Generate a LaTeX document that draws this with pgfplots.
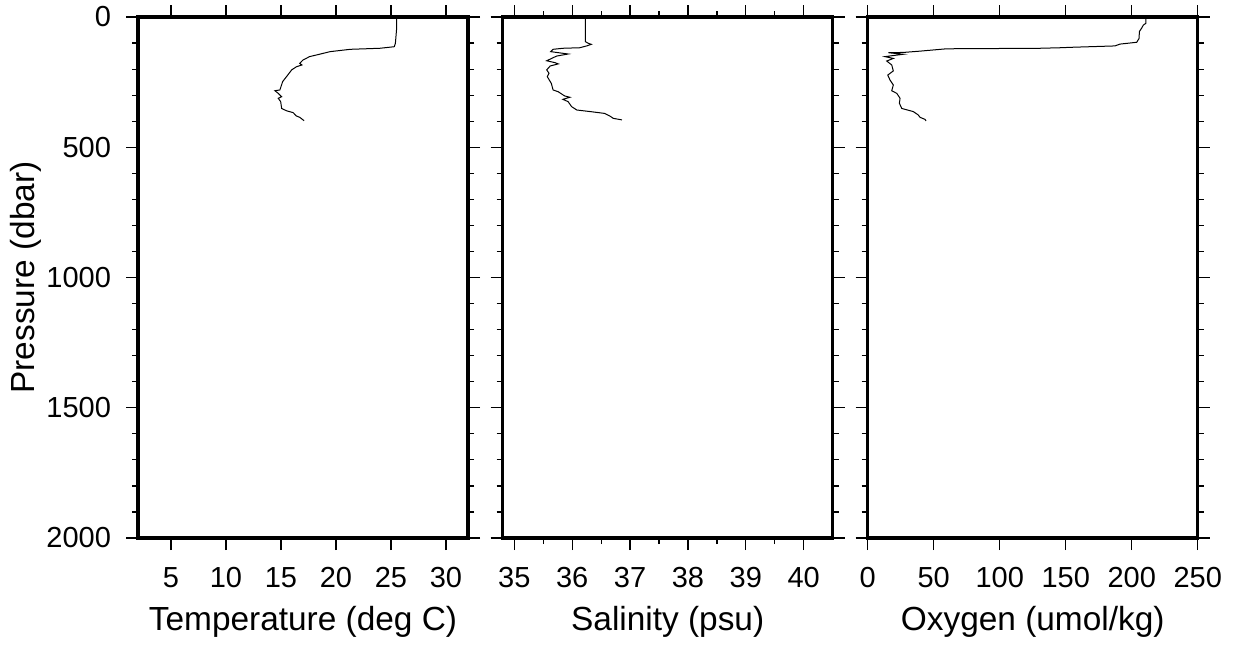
\documentclass[border=0pt]{standalone}
\usepackage{pgfplots}
\pgfplotsset{compat=1.18}
\usepackage{fontspec}
\setmainfont{Liberation Sans}

\pgfplotstableread{
T P
25.5 0
25.5 50
25.4 101
25.3 114
24.0 120
21.3 124
19.45 133
18.5 143
17.6 152
17.0 165
16.7 178
16.9 184
16.4 191
15.97 203
15.5 229
15.15 248
14.9 280
14.45 283
14.75 293
15.06 306
14.75 312
14.97 325
15.06 351
15.5 360
16.1 367
16.4 380
16.7 385
17.1 398
}\temptab

\pgfplotstableread{
S P
36.23 0
36.23 50
36.23 95
36.28 101
36.33 105
36.25 111
36.13 118
35.84 120
35.67 124
35.63 133
35.93 142
35.73 150
35.56 168
35.70 175
35.76 180
35.62 188
35.56 203
35.60 216
35.57 229
35.64 255
35.67 280
35.76 287
35.87 303
35.96 308
35.84 316
35.93 325
35.99 344
36.08 357
36.31 363
36.56 370
36.65 380
36.71 389
36.86 395
}\saltab

\pgfplotstableread{
O P
210.8 0
210.8 24
208.8 31
207.5 43
205.8 56
205.6 82
203.8 97
191.1 104
187.3 111
155.8 116
145.7 118
130.5 120
59.8 122
39.6 131
27.0 136
15.6 137
27.0 143
13.1 152
19.4 159
14.4 169
18.2 184
19.4 207
15.2 223
16.9 242
19.4 261
18.2 283
22.0 293
24.5 312
24.0 331
25.8 351
34.5 363
38.3 376
39.6 385
43.4 393
44.2 399
}\oxytab

\pgfplotsset{prof/.style={
  scale only axis, width=165pt, height=260.5pt,
  anchor=south west,
  y dir=reverse, ymin=0, ymax=2000,
  ytick={0,500,1000,1500,2000},
  minor ytick={100,200,300,400,600,700,800,900,1100,1200,1300,1400,1600,1700,1800,1900},
  tick align=outside, major tick length=6pt, minor tick length=3pt,
  tick style={black, line width=0.6pt},
  axis line style={line width=1.6pt},
  tick label style={font=\fontsize{14.5}{17}\selectfont},
  xticklabel style={yshift=-5pt},
  yticklabel style={xshift=-4pt},
  /pgf/number format/assume math mode=true,
  /pgf/number format/1000 sep={},
  scaled ticks=false,
  xlabel style={font=\fontsize{16.7}{20}\selectfont, at={(axis description cs:0.5,0)}, anchor=base, yshift=-46.35pt},
}}

\begin{document}
\begin{tikzpicture}
\useasboundingbox (0,0) rectangle (617.5pt,322pt);

\begin{axis}[prof, at={(69pt,53pt)},
  xmin=2, xmax=32, xtick={5,10,15,20,25,30},
  xlabel={Temperature (deg C)}]
\addplot[black, line width=0.5pt] table[x=T, y=P] {\temptab};
\draw[line width=1.6pt, line join=miter] (rel axis cs:0,0) rectangle (rel axis cs:1,1);
\end{axis}

\begin{axis}[prof, at={(251.35pt,53pt)},
  xmin=34.8, xmax=40.5, xtick={35,36,37,38,39,40},
  minor xtick={35.5,36.5,37.5,38.5,39.5},
  yticklabels={},
  xlabel={Salinity (psu)}]
\addplot[black, line width=0.5pt] table[x=S, y=P] {\saltab};
\draw[line width=1.6pt, line join=miter] (rel axis cs:0,0) rectangle (rel axis cs:1,1);
\end{axis}

\begin{axis}[prof, at={(433.85pt,53pt)},
  xmin=0, xmax=250, xtick={0,50,100,150,200,250},
  yticklabels={},
  xlabel={Oxygen (umol/kg)}]
\addplot[black, line width=0.5pt] table[x=O, y=P] {\oxytab};
\draw[line width=1.6pt, line join=miter] (rel axis cs:0,0) rectangle (rel axis cs:1,1);
\end{axis}

\node[rotate=90, font=\fontsize{16.7}{20}\selectfont] at (13pt,183.25pt) {Pressure (dbar)};
\end{tikzpicture}
\end{document}
